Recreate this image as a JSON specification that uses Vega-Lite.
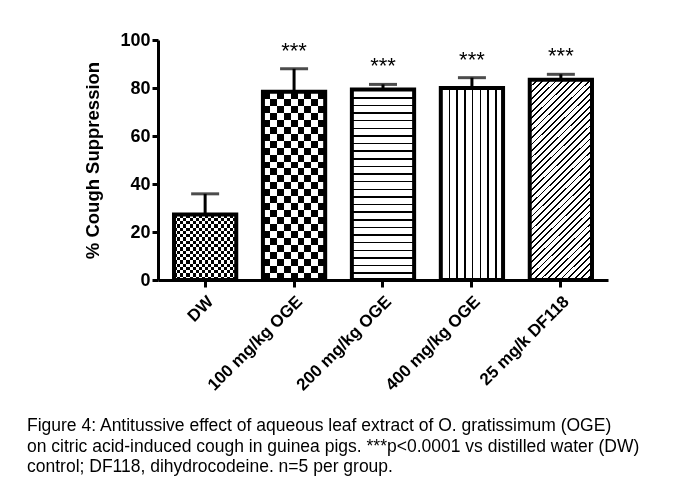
{
  "$schema": "https://vega.github.io/schema/vega-lite/v6.json",
  "width": 450,
  "height": 240,
  "padding": {"left": 27, "top": 31, "right": 5, "bottom": 5},
  "background": "white",
  "config": {"view": {"stroke": null}, "font": "Liberation Sans"},
  "data": {
    "values": [
      {"group": "DW", "value": 27.3, "err_hi": 35.9, "sig": ""},
      {"group": "100 mg/kg OGE", "value": 78.4, "err_hi": 88.0, "sig": "***"},
      {"group": "200 mg/kg OGE", "value": 79.4, "err_hi": 81.5, "sig": "***"},
      {"group": "400 mg/kg OGE", "value": 80.0, "err_hi": 84.3, "sig": "***"},
      {"group": "25 mg/k DF118", "value": 83.4, "err_hi": 85.7, "sig": "***"}
    ]
  },
  "title": {
    "text": [
      "Figure 4: Antitussive effect of aqueous leaf extract of O. gratissimum (OGE)",
      "on citric acid-induced cough in guinea pigs. ***p<0.0001 vs distilled water (DW)",
      "control; DF118, dihydrocodeine.  n=5 per group."
    ],
    "orient": "bottom",
    "anchor": "start",
    "frame": "group",
    "dx": -131,
    "offset": 24,
    "font": "Liberation Sans",
    "fontSize": 17.5,
    "fontWeight": "normal",
    "lineHeight": 20.5,
    "color": "#000"
  },
  "encoding": {
    "x": {
      "field": "group",
      "type": "nominal",
      "sort": null,
      "scale": {"paddingInner": 0.3, "paddingOuter": 0.18},
      "axis": {
        "title": null,
        "labelAngle": -45,
        "labelFont": "Liberation Sans",
        "labelFontSize": 17,
        "labelFontWeight": "bold",
        "labelColor": "#000",
        "labelPadding": 6,
        "tickSize": 7,
        "tickWidth": 3,
        "tickColor": "#000",
        "domainWidth": 3,
        "domainColor": "#000"
      }
    },
    "y": {
      "field": "value",
      "type": "quantitative",
      "title": "% Cough Suppression",
      "scale": {"domain": [0, 100], "nice": false},
      "axis": {
        "title": "% Cough Suppression",
        "titleFont": "Liberation Sans",
        "titleFontSize": 18.5,
        "titleFontWeight": "bold",
        "titleColor": "#000",
        "titlePadding": 17,
        "values": [0, 20, 40, 60, 80, 100],
        "labelFont": "Liberation Sans",
        "labelFontSize": 18,
        "labelFontWeight": "bold",
        "labelColor": "#000",
        "labelPadding": 2,
        "tickSize": 6,
        "tickWidth": 3,
        "tickColor": "#000",
        "domainWidth": 3,
        "domainColor": "#000",
        "grid": false
      }
    }
  },
  "layer": [
    {
      "transform": [{"filter": "datum.group === 'DW'"}],
      "mark": {
        "type": "bar",
        "fill": {
          "gradient": "linear", "x1": 0, "y1": 0, "x2": 0, "y2": 1,
          "stops": [
            {"offset": 0, "color": "#000"}, {"offset": 0.05, "color": "#000"},
            {"offset": 0.05, "color": "#fff"}, {"offset": 0.1, "color": "#fff"},
            {"offset": 0.1, "color": "#000"}, {"offset": 0.15, "color": "#000"},
            {"offset": 0.15, "color": "#fff"}, {"offset": 0.2, "color": "#fff"},
            {"offset": 0.2, "color": "#000"}, {"offset": 0.25, "color": "#000"},
            {"offset": 0.25, "color": "#fff"}, {"offset": 0.3, "color": "#fff"},
            {"offset": 0.3, "color": "#000"}, {"offset": 0.35, "color": "#000"},
            {"offset": 0.35, "color": "#fff"}, {"offset": 0.4, "color": "#fff"},
            {"offset": 0.4, "color": "#000"}, {"offset": 0.45, "color": "#000"},
            {"offset": 0.45, "color": "#fff"}, {"offset": 0.5, "color": "#fff"},
            {"offset": 0.5, "color": "#000"}, {"offset": 0.55, "color": "#000"},
            {"offset": 0.55, "color": "#fff"}, {"offset": 0.6, "color": "#fff"},
            {"offset": 0.6, "color": "#000"}, {"offset": 0.65, "color": "#000"},
            {"offset": 0.65, "color": "#fff"}, {"offset": 0.7, "color": "#fff"},
            {"offset": 0.7, "color": "#000"}, {"offset": 0.75, "color": "#000"},
            {"offset": 0.75, "color": "#fff"}, {"offset": 0.8, "color": "#fff"},
            {"offset": 0.8, "color": "#000"}, {"offset": 0.85, "color": "#000"},
            {"offset": 0.85, "color": "#fff"}, {"offset": 0.9, "color": "#fff"},
            {"offset": 0.9, "color": "#000"}, {"offset": 0.95, "color": "#000"},
            {"offset": 0.95, "color": "#fff"}, {"offset": 1, "color": "#fff"}
          ]
        }
      }
    },
    {
      "transform": [{"filter": "datum.group === 'DW'"}],
      "mark": {
        "type": "bar",
        "blend": "difference",
        "fill": {
          "gradient": "linear", "x1": 0, "y1": 0, "x2": 1, "y2": 0,
          "stops": [
            {"offset": 0, "color": "#000"}, {"offset": 0.05, "color": "#000"},
            {"offset": 0.05, "color": "#fff"}, {"offset": 0.1, "color": "#fff"},
            {"offset": 0.1, "color": "#000"}, {"offset": 0.15, "color": "#000"},
            {"offset": 0.15, "color": "#fff"}, {"offset": 0.2, "color": "#fff"},
            {"offset": 0.2, "color": "#000"}, {"offset": 0.25, "color": "#000"},
            {"offset": 0.25, "color": "#fff"}, {"offset": 0.3, "color": "#fff"},
            {"offset": 0.3, "color": "#000"}, {"offset": 0.35, "color": "#000"},
            {"offset": 0.35, "color": "#fff"}, {"offset": 0.4, "color": "#fff"},
            {"offset": 0.4, "color": "#000"}, {"offset": 0.45, "color": "#000"},
            {"offset": 0.45, "color": "#fff"}, {"offset": 0.5, "color": "#fff"},
            {"offset": 0.5, "color": "#000"}, {"offset": 0.55, "color": "#000"},
            {"offset": 0.55, "color": "#fff"}, {"offset": 0.6, "color": "#fff"},
            {"offset": 0.6, "color": "#000"}, {"offset": 0.65, "color": "#000"},
            {"offset": 0.65, "color": "#fff"}, {"offset": 0.7, "color": "#fff"},
            {"offset": 0.7, "color": "#000"}, {"offset": 0.75, "color": "#000"},
            {"offset": 0.75, "color": "#fff"}, {"offset": 0.8, "color": "#fff"},
            {"offset": 0.8, "color": "#000"}, {"offset": 0.85, "color": "#000"},
            {"offset": 0.85, "color": "#fff"}, {"offset": 0.9, "color": "#fff"},
            {"offset": 0.9, "color": "#000"}, {"offset": 0.95, "color": "#000"},
            {"offset": 0.95, "color": "#fff"}, {"offset": 1, "color": "#fff"}
          ]
        }
      }
    },
    {
      "transform": [{"filter": "datum.group === '100 mg/kg OGE'"}],
      "mark": {
        "type": "bar",
        "fill": {
          "gradient": "linear", "x1": 0, "y1": 0, "x2": 0, "y2": 1,
          "stops": [
            {"offset": 0, "color": "#000"}, {"offset": 0.037, "color": "#000"},
            {"offset": 0.037, "color": "#fff"}, {"offset": 0.0741, "color": "#fff"},
            {"offset": 0.0741, "color": "#000"}, {"offset": 0.1111, "color": "#000"},
            {"offset": 0.1111, "color": "#fff"}, {"offset": 0.1481, "color": "#fff"},
            {"offset": 0.1481, "color": "#000"}, {"offset": 0.1852, "color": "#000"},
            {"offset": 0.1852, "color": "#fff"}, {"offset": 0.2222, "color": "#fff"},
            {"offset": 0.2222, "color": "#000"}, {"offset": 0.2593, "color": "#000"},
            {"offset": 0.2593, "color": "#fff"}, {"offset": 0.2963, "color": "#fff"},
            {"offset": 0.2963, "color": "#000"}, {"offset": 0.3333, "color": "#000"},
            {"offset": 0.3333, "color": "#fff"}, {"offset": 0.3704, "color": "#fff"},
            {"offset": 0.3704, "color": "#000"}, {"offset": 0.4074, "color": "#000"},
            {"offset": 0.4074, "color": "#fff"}, {"offset": 0.4444, "color": "#fff"},
            {"offset": 0.4444, "color": "#000"}, {"offset": 0.4815, "color": "#000"},
            {"offset": 0.4815, "color": "#fff"}, {"offset": 0.5185, "color": "#fff"},
            {"offset": 0.5185, "color": "#000"}, {"offset": 0.5556, "color": "#000"},
            {"offset": 0.5556, "color": "#fff"}, {"offset": 0.5926, "color": "#fff"},
            {"offset": 0.5926, "color": "#000"}, {"offset": 0.6296, "color": "#000"},
            {"offset": 0.6296, "color": "#fff"}, {"offset": 0.6667, "color": "#fff"},
            {"offset": 0.6667, "color": "#000"}, {"offset": 0.7037, "color": "#000"},
            {"offset": 0.7037, "color": "#fff"}, {"offset": 0.7407, "color": "#fff"},
            {"offset": 0.7407, "color": "#000"}, {"offset": 0.7778, "color": "#000"},
            {"offset": 0.7778, "color": "#fff"}, {"offset": 0.8148, "color": "#fff"},
            {"offset": 0.8148, "color": "#000"}, {"offset": 0.8519, "color": "#000"},
            {"offset": 0.8519, "color": "#fff"}, {"offset": 0.8889, "color": "#fff"},
            {"offset": 0.8889, "color": "#000"}, {"offset": 0.9259, "color": "#000"},
            {"offset": 0.9259, "color": "#fff"}, {"offset": 0.963, "color": "#fff"},
            {"offset": 0.963, "color": "#000"}, {"offset": 1, "color": "#000"}
          ]
        }
      }
    },
    {
      "transform": [{"filter": "datum.group === '100 mg/kg OGE'"}],
      "mark": {
        "type": "bar",
        "blend": "difference",
        "fill": {
          "gradient": "linear", "x1": 0, "y1": 0, "x2": 1, "y2": 0,
          "stops": [
            {"offset": 0, "color": "#000"}, {"offset": 0.1111, "color": "#000"},
            {"offset": 0.1111, "color": "#fff"}, {"offset": 0.2222, "color": "#fff"},
            {"offset": 0.2222, "color": "#000"}, {"offset": 0.3333, "color": "#000"},
            {"offset": 0.3333, "color": "#fff"}, {"offset": 0.4444, "color": "#fff"},
            {"offset": 0.4444, "color": "#000"}, {"offset": 0.5556, "color": "#000"},
            {"offset": 0.5556, "color": "#fff"}, {"offset": 0.6667, "color": "#fff"},
            {"offset": 0.6667, "color": "#000"}, {"offset": 0.7778, "color": "#000"},
            {"offset": 0.7778, "color": "#fff"}, {"offset": 0.8889, "color": "#fff"},
            {"offset": 0.8889, "color": "#000"}, {"offset": 1, "color": "#000"}
          ]
        }
      }
    },
    {
      "transform": [{"filter": "datum.group === '200 mg/kg OGE'"}],
      "mark": {
        "type": "bar",
        "fill": {
          "gradient": "linear", "x1": 0, "y1": 0, "x2": 0, "y2": 1,
          "stops": [
            {"offset": 0, "color": "#fff"},
            {"offset": 0.04, "color": "#fff"}, {"offset": 0.04, "color": "#000"}, {"offset": 0.048, "color": "#000"}, {"offset": 0.048, "color": "#fff"},
            {"offset": 0.08, "color": "#fff"}, {"offset": 0.08, "color": "#000"}, {"offset": 0.088, "color": "#000"}, {"offset": 0.088, "color": "#fff"},
            {"offset": 0.12, "color": "#fff"}, {"offset": 0.12, "color": "#000"}, {"offset": 0.128, "color": "#000"}, {"offset": 0.128, "color": "#fff"},
            {"offset": 0.16, "color": "#fff"}, {"offset": 0.16, "color": "#000"}, {"offset": 0.168, "color": "#000"}, {"offset": 0.168, "color": "#fff"},
            {"offset": 0.2, "color": "#fff"}, {"offset": 0.2, "color": "#000"}, {"offset": 0.208, "color": "#000"}, {"offset": 0.208, "color": "#fff"},
            {"offset": 0.24, "color": "#fff"}, {"offset": 0.24, "color": "#000"}, {"offset": 0.248, "color": "#000"}, {"offset": 0.248, "color": "#fff"},
            {"offset": 0.28, "color": "#fff"}, {"offset": 0.28, "color": "#000"}, {"offset": 0.288, "color": "#000"}, {"offset": 0.288, "color": "#fff"},
            {"offset": 0.32, "color": "#fff"}, {"offset": 0.32, "color": "#000"}, {"offset": 0.328, "color": "#000"}, {"offset": 0.328, "color": "#fff"},
            {"offset": 0.36, "color": "#fff"}, {"offset": 0.36, "color": "#000"}, {"offset": 0.368, "color": "#000"}, {"offset": 0.368, "color": "#fff"},
            {"offset": 0.4, "color": "#fff"}, {"offset": 0.4, "color": "#000"}, {"offset": 0.408, "color": "#000"}, {"offset": 0.408, "color": "#fff"},
            {"offset": 0.44, "color": "#fff"}, {"offset": 0.44, "color": "#000"}, {"offset": 0.448, "color": "#000"}, {"offset": 0.448, "color": "#fff"},
            {"offset": 0.48, "color": "#fff"}, {"offset": 0.48, "color": "#000"}, {"offset": 0.488, "color": "#000"}, {"offset": 0.488, "color": "#fff"},
            {"offset": 0.52, "color": "#fff"}, {"offset": 0.52, "color": "#000"}, {"offset": 0.528, "color": "#000"}, {"offset": 0.528, "color": "#fff"},
            {"offset": 0.56, "color": "#fff"}, {"offset": 0.56, "color": "#000"}, {"offset": 0.568, "color": "#000"}, {"offset": 0.568, "color": "#fff"},
            {"offset": 0.6, "color": "#fff"}, {"offset": 0.6, "color": "#000"}, {"offset": 0.608, "color": "#000"}, {"offset": 0.608, "color": "#fff"},
            {"offset": 0.64, "color": "#fff"}, {"offset": 0.64, "color": "#000"}, {"offset": 0.648, "color": "#000"}, {"offset": 0.648, "color": "#fff"},
            {"offset": 0.68, "color": "#fff"}, {"offset": 0.68, "color": "#000"}, {"offset": 0.688, "color": "#000"}, {"offset": 0.688, "color": "#fff"},
            {"offset": 0.72, "color": "#fff"}, {"offset": 0.72, "color": "#000"}, {"offset": 0.728, "color": "#000"}, {"offset": 0.728, "color": "#fff"},
            {"offset": 0.76, "color": "#fff"}, {"offset": 0.76, "color": "#000"}, {"offset": 0.768, "color": "#000"}, {"offset": 0.768, "color": "#fff"},
            {"offset": 0.8, "color": "#fff"}, {"offset": 0.8, "color": "#000"}, {"offset": 0.808, "color": "#000"}, {"offset": 0.808, "color": "#fff"},
            {"offset": 0.84, "color": "#fff"}, {"offset": 0.84, "color": "#000"}, {"offset": 0.848, "color": "#000"}, {"offset": 0.848, "color": "#fff"},
            {"offset": 0.88, "color": "#fff"}, {"offset": 0.88, "color": "#000"}, {"offset": 0.888, "color": "#000"}, {"offset": 0.888, "color": "#fff"},
            {"offset": 0.92, "color": "#fff"}, {"offset": 0.92, "color": "#000"}, {"offset": 0.928, "color": "#000"}, {"offset": 0.928, "color": "#fff"},
            {"offset": 0.96, "color": "#fff"}, {"offset": 0.96, "color": "#000"}, {"offset": 0.968, "color": "#000"}, {"offset": 0.968, "color": "#fff"},
            {"offset": 1, "color": "#fff"}
          ]
        }
      }
    },
    {
      "transform": [{"filter": "datum.group === '400 mg/kg OGE'"}],
      "mark": {
        "type": "bar",
        "fill": {
          "gradient": "linear", "x1": 0, "y1": 0, "x2": 1, "y2": 0,
          "stops": [
            {"offset": 0, "color": "#fff"},
            {"offset": 0.125, "color": "#fff"}, {"offset": 0.125, "color": "#000"}, {"offset": 0.15, "color": "#000"}, {"offset": 0.15, "color": "#fff"},
            {"offset": 0.25, "color": "#fff"}, {"offset": 0.25, "color": "#000"}, {"offset": 0.275, "color": "#000"}, {"offset": 0.275, "color": "#fff"},
            {"offset": 0.375, "color": "#fff"}, {"offset": 0.375, "color": "#000"}, {"offset": 0.4, "color": "#000"}, {"offset": 0.4, "color": "#fff"},
            {"offset": 0.5, "color": "#fff"}, {"offset": 0.5, "color": "#000"}, {"offset": 0.525, "color": "#000"}, {"offset": 0.525, "color": "#fff"},
            {"offset": 0.625, "color": "#fff"}, {"offset": 0.625, "color": "#000"}, {"offset": 0.65, "color": "#000"}, {"offset": 0.65, "color": "#fff"},
            {"offset": 0.75, "color": "#fff"}, {"offset": 0.75, "color": "#000"}, {"offset": 0.775, "color": "#000"}, {"offset": 0.775, "color": "#fff"},
            {"offset": 0.875, "color": "#fff"}, {"offset": 0.875, "color": "#000"}, {"offset": 0.9, "color": "#000"}, {"offset": 0.9, "color": "#fff"},
            {"offset": 1, "color": "#fff"}
          ]
        }
      }
    },
    {
      "transform": [{"filter": "datum.group === '25 mg/k DF118'"}],
      "mark": {
        "type": "bar",
        "fill": {
          "gradient": "linear", "x1": 0, "y1": 0, "x2": 0.367, "y2": 1.195,
          "stops": [
            {"offset": 0, "color": "#fff"},
            {"offset": 0.025, "color": "#fff"}, {"offset": 0.025, "color": "#000"}, {"offset": 0.032, "color": "#000"}, {"offset": 0.032, "color": "#fff"},
            {"offset": 0.05, "color": "#fff"}, {"offset": 0.05, "color": "#000"}, {"offset": 0.057, "color": "#000"}, {"offset": 0.057, "color": "#fff"},
            {"offset": 0.075, "color": "#fff"}, {"offset": 0.075, "color": "#000"}, {"offset": 0.082, "color": "#000"}, {"offset": 0.082, "color": "#fff"},
            {"offset": 0.1, "color": "#fff"}, {"offset": 0.1, "color": "#000"}, {"offset": 0.107, "color": "#000"}, {"offset": 0.107, "color": "#fff"},
            {"offset": 0.125, "color": "#fff"}, {"offset": 0.125, "color": "#000"}, {"offset": 0.132, "color": "#000"}, {"offset": 0.132, "color": "#fff"},
            {"offset": 0.15, "color": "#fff"}, {"offset": 0.15, "color": "#000"}, {"offset": 0.157, "color": "#000"}, {"offset": 0.157, "color": "#fff"},
            {"offset": 0.175, "color": "#fff"}, {"offset": 0.175, "color": "#000"}, {"offset": 0.182, "color": "#000"}, {"offset": 0.182, "color": "#fff"},
            {"offset": 0.2, "color": "#fff"}, {"offset": 0.2, "color": "#000"}, {"offset": 0.207, "color": "#000"}, {"offset": 0.207, "color": "#fff"},
            {"offset": 0.225, "color": "#fff"}, {"offset": 0.225, "color": "#000"}, {"offset": 0.232, "color": "#000"}, {"offset": 0.232, "color": "#fff"},
            {"offset": 0.25, "color": "#fff"}, {"offset": 0.25, "color": "#000"}, {"offset": 0.257, "color": "#000"}, {"offset": 0.257, "color": "#fff"},
            {"offset": 0.275, "color": "#fff"}, {"offset": 0.275, "color": "#000"}, {"offset": 0.282, "color": "#000"}, {"offset": 0.282, "color": "#fff"},
            {"offset": 0.3, "color": "#fff"}, {"offset": 0.3, "color": "#000"}, {"offset": 0.307, "color": "#000"}, {"offset": 0.307, "color": "#fff"},
            {"offset": 0.325, "color": "#fff"}, {"offset": 0.325, "color": "#000"}, {"offset": 0.332, "color": "#000"}, {"offset": 0.332, "color": "#fff"},
            {"offset": 0.35, "color": "#fff"}, {"offset": 0.35, "color": "#000"}, {"offset": 0.357, "color": "#000"}, {"offset": 0.357, "color": "#fff"},
            {"offset": 0.375, "color": "#fff"}, {"offset": 0.375, "color": "#000"}, {"offset": 0.382, "color": "#000"}, {"offset": 0.382, "color": "#fff"},
            {"offset": 0.4, "color": "#fff"}, {"offset": 0.4, "color": "#000"}, {"offset": 0.407, "color": "#000"}, {"offset": 0.407, "color": "#fff"},
            {"offset": 0.425, "color": "#fff"}, {"offset": 0.425, "color": "#000"}, {"offset": 0.432, "color": "#000"}, {"offset": 0.432, "color": "#fff"},
            {"offset": 0.45, "color": "#fff"}, {"offset": 0.45, "color": "#000"}, {"offset": 0.457, "color": "#000"}, {"offset": 0.457, "color": "#fff"},
            {"offset": 0.475, "color": "#fff"}, {"offset": 0.475, "color": "#000"}, {"offset": 0.482, "color": "#000"}, {"offset": 0.482, "color": "#fff"},
            {"offset": 0.5, "color": "#fff"}, {"offset": 0.5, "color": "#000"}, {"offset": 0.507, "color": "#000"}, {"offset": 0.507, "color": "#fff"},
            {"offset": 0.525, "color": "#fff"}, {"offset": 0.525, "color": "#000"}, {"offset": 0.532, "color": "#000"}, {"offset": 0.532, "color": "#fff"},
            {"offset": 0.55, "color": "#fff"}, {"offset": 0.55, "color": "#000"}, {"offset": 0.557, "color": "#000"}, {"offset": 0.557, "color": "#fff"},
            {"offset": 0.575, "color": "#fff"}, {"offset": 0.575, "color": "#000"}, {"offset": 0.582, "color": "#000"}, {"offset": 0.582, "color": "#fff"},
            {"offset": 0.6, "color": "#fff"}, {"offset": 0.6, "color": "#000"}, {"offset": 0.607, "color": "#000"}, {"offset": 0.607, "color": "#fff"},
            {"offset": 0.625, "color": "#fff"}, {"offset": 0.625, "color": "#000"}, {"offset": 0.632, "color": "#000"}, {"offset": 0.632, "color": "#fff"},
            {"offset": 0.65, "color": "#fff"}, {"offset": 0.65, "color": "#000"}, {"offset": 0.657, "color": "#000"}, {"offset": 0.657, "color": "#fff"},
            {"offset": 0.675, "color": "#fff"}, {"offset": 0.675, "color": "#000"}, {"offset": 0.682, "color": "#000"}, {"offset": 0.682, "color": "#fff"},
            {"offset": 0.7, "color": "#fff"}, {"offset": 0.7, "color": "#000"}, {"offset": 0.707, "color": "#000"}, {"offset": 0.707, "color": "#fff"},
            {"offset": 0.725, "color": "#fff"}, {"offset": 0.725, "color": "#000"}, {"offset": 0.732, "color": "#000"}, {"offset": 0.732, "color": "#fff"},
            {"offset": 0.75, "color": "#fff"}, {"offset": 0.75, "color": "#000"}, {"offset": 0.757, "color": "#000"}, {"offset": 0.757, "color": "#fff"},
            {"offset": 0.775, "color": "#fff"}, {"offset": 0.775, "color": "#000"}, {"offset": 0.782, "color": "#000"}, {"offset": 0.782, "color": "#fff"},
            {"offset": 0.8, "color": "#fff"}, {"offset": 0.8, "color": "#000"}, {"offset": 0.807, "color": "#000"}, {"offset": 0.807, "color": "#fff"},
            {"offset": 0.825, "color": "#fff"}, {"offset": 0.825, "color": "#000"}, {"offset": 0.832, "color": "#000"}, {"offset": 0.832, "color": "#fff"},
            {"offset": 0.85, "color": "#fff"}, {"offset": 0.85, "color": "#000"}, {"offset": 0.857, "color": "#000"}, {"offset": 0.857, "color": "#fff"},
            {"offset": 0.875, "color": "#fff"}, {"offset": 0.875, "color": "#000"}, {"offset": 0.882, "color": "#000"}, {"offset": 0.882, "color": "#fff"},
            {"offset": 0.9, "color": "#fff"}, {"offset": 0.9, "color": "#000"}, {"offset": 0.907, "color": "#000"}, {"offset": 0.907, "color": "#fff"},
            {"offset": 0.925, "color": "#fff"}, {"offset": 0.925, "color": "#000"}, {"offset": 0.932, "color": "#000"}, {"offset": 0.932, "color": "#fff"},
            {"offset": 0.95, "color": "#fff"}, {"offset": 0.95, "color": "#000"}, {"offset": 0.957, "color": "#000"}, {"offset": 0.957, "color": "#fff"},
            {"offset": 0.975, "color": "#fff"}, {"offset": 0.975, "color": "#000"}, {"offset": 0.982, "color": "#000"}, {"offset": 0.982, "color": "#fff"},
            {"offset": 1, "color": "#fff"}
          ]
        }
      }
    },
    {
      "mark": {"type": "rule", "color": "#000", "strokeWidth": 3},
      "encoding": {
        "y": {"field": "value", "type": "quantitative", "title": "% Cough Suppression"},
        "y2": {"field": "err_hi"}
      }
    },
    {
      "mark": {"type": "tick", "color": "#000", "thickness": 3, "size": 28, "orient": "horizontal"},
      "encoding": {
        "y": {"field": "err_hi", "type": "quantitative", "title": "% Cough Suppression"}
      }
    },
    {
      "mark": {"type": "bar", "fill": "transparent", "stroke": "#000", "strokeWidth": 4}
    },
    {
      "mark": {"type": "text", "font": "Liberation Sans", "fontSize": 22, "color": "#000", "baseline": "middle", "dy": -18},
      "encoding": {
        "y": {"field": "err_hi", "type": "quantitative", "title": "% Cough Suppression"},
        "text": {"field": "sig"}
      }
    }
  ]
}
